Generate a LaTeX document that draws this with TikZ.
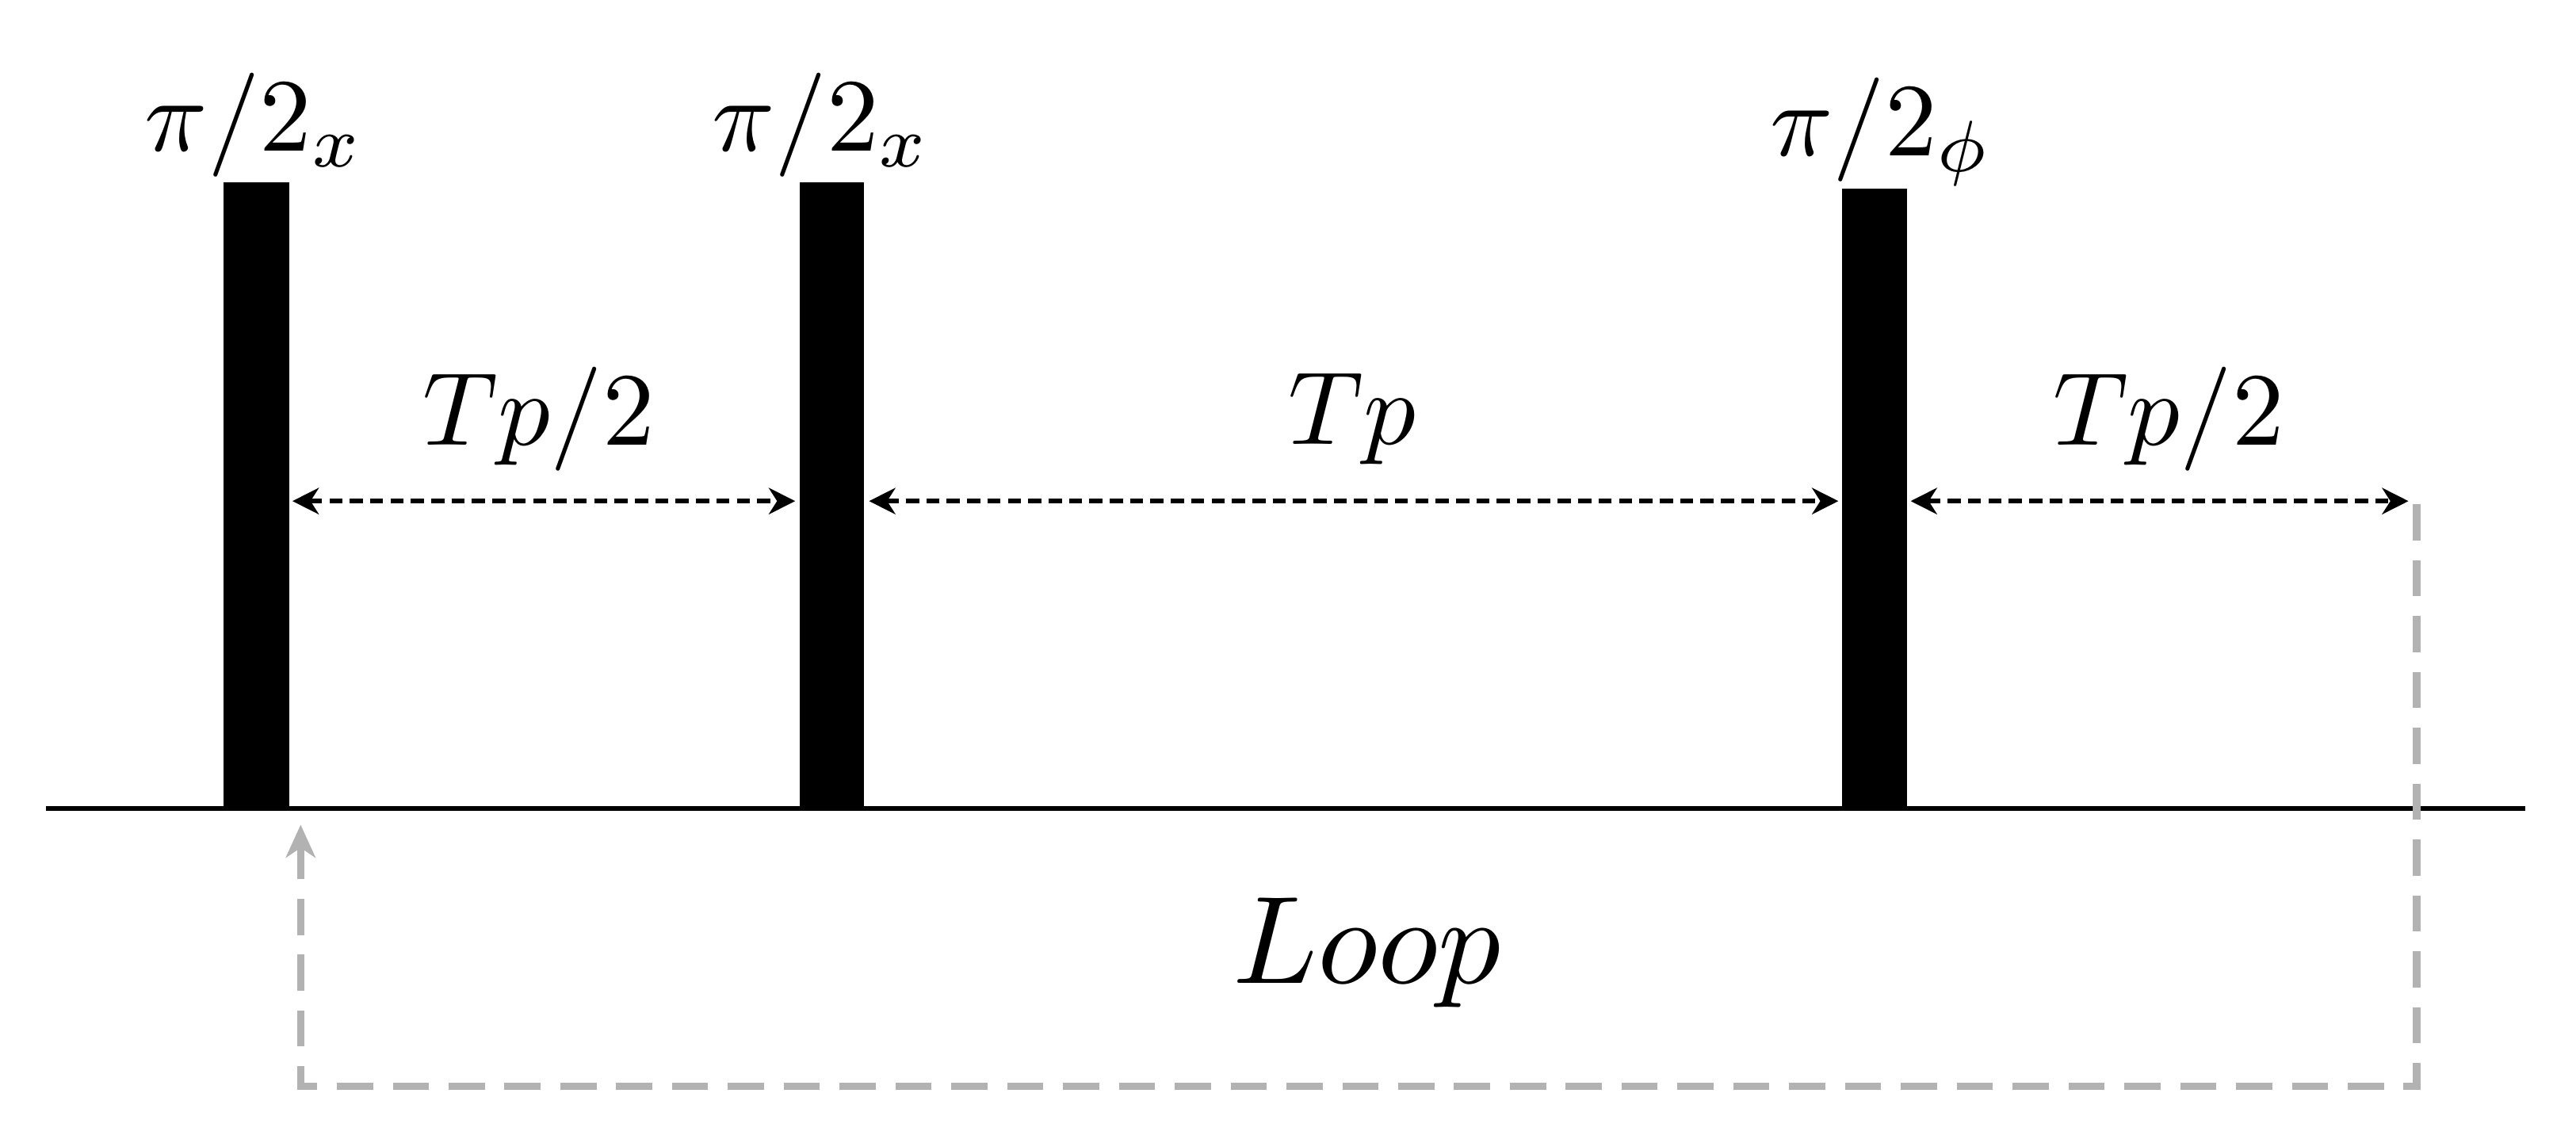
\documentclass[tikz,border=0pt]{standalone}
\usetikzlibrary{arrows.meta}
\begin{document}
\begin{tikzpicture}[x=0.05cm,y=-0.05cm,
  pulse/.style={fill=black,draw=none},
  dim/.style={line width=0.14cm,dash pattern=on 0.4cm off 0.22cm,{Stealth[length=0.8cm,width=0.8cm,inset=0.25cm]}-{Stealth[length=0.8cm,width=0.8cm,inset=0.25cm]}},
  loop/.style={draw=black!30,line width=0.22cm,dash pattern=on 1.1cm off 0.6cm,-{Stealth[length=1cm,width=0.9cm,inset=0.3cm]}},
  lbl/.style={inner sep=0pt,scale=9}]
\useasboundingbox (0,0) rectangle (1568,693);
\draw[line width=0.15cm] (28,492) -- (1537,492);
\fill[pulse] (136,111) rectangle (176,492);
\fill[pulse] (487,111) rectangle (526,492);
\fill[pulse] (1121,115) rectangle (1161,492);
\node[lbl,anchor=base] (t1) at (155,92) {$\pi/2_x$};
\node[lbl,anchor=base] (t2) at (500,92) {$\pi/2_x$};
\node[lbl,anchor=base] (t3) at (1145,95) {$\pi/2_\phi$};
\coordinate (a1) at (178,305); \coordinate (b1) at (484,305);
\coordinate (a2) at (529,305); \coordinate (b2) at (1119,305);
\coordinate (a3) at (1163,305); \coordinate (b3) at (1466,305);
\draw[dim] (a1) -- (b1);
\draw[dim] (a2) -- (b2);
\draw[dim] (a3) -- (b3);
\node[lbl] (l1) at (328,255) {$Tp/2$};
\node[lbl] (l2) at (823,255) {$Tp$};
\node[lbl] (l3) at (1320,255) {$Tp/2$};
\node[lbl,scale=1.2] (l4) at (832,580) {$Loop$};
\coordinate (s) at (1471,307); \coordinate (e) at (183,502);
\draw[loop] (s) -- (1471,661) -- (183,661) -- (e);
\end{tikzpicture}
\end{document}
